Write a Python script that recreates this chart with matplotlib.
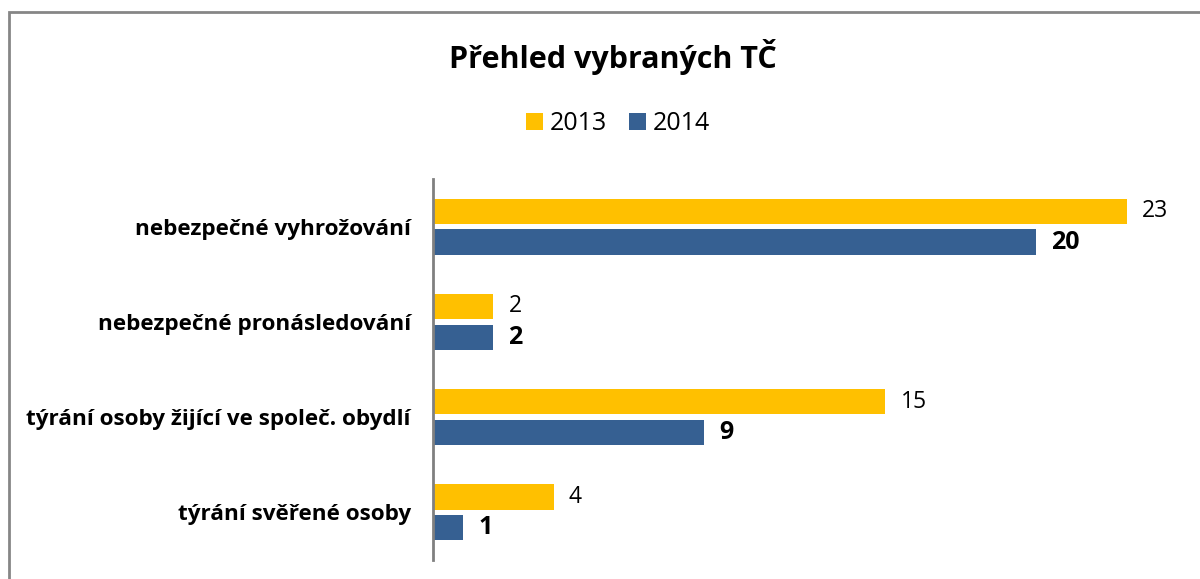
import numpy as np
import matplotlib.pyplot as plt
from matplotlib.patches import Rectangle

categories = ["nebezpečné vyhrožování", "nebezpečné pronásledování",
              "týrání osoby žijící ve společ. obydlí", "týrání svěřené osoby"]
values_2013 = [23, 2, 15, 4]
values_2014 = [20, 2, 9, 1]
series = ["2013", "2014"]

YELLOW = "#FFC000"
BLUE = "#366092"
FONT = ["Open Sans", "DejaVu Sans"]

plt.rcParams["font.family"] = FONT

fig = plt.figure(figsize=(12, 5.79), dpi=100)
ax = fig.add_axes([433 / 1200, 19 / 579, 754 / 1200, 381 / 579])

y = np.arange(len(categories))
h = 0.265
ax.barh(y - h / 2 - 0.03, values_2013, height=h, color=YELLOW, label=series[0])
ax.barh(y + h / 2 + 0.03, values_2014, height=h, color=BLUE, label=series[1])

for i in range(len(categories)):
    ax.text(values_2013[i] + 0.5, y[i] - h / 2 - 0.03, str(values_2013[i]),
            va="center", ha="left", fontsize=16.5)
    ax.text(values_2014[i] + 0.5, y[i] + h / 2 + 0.03, str(values_2014[i]),
            va="center", ha="left", fontsize=18, fontweight="bold")

ax.set_xlim(0, 25)
ax.set_ylim(len(categories) - 0.5, -0.5)
ax.set_yticks(y, labels=categories)
ax.tick_params(axis="y", length=0, pad=16)
for lbl in ax.get_yticklabels():
    lbl.set_fontweight("bold")
    lbl.set_fontsize(16.2)
ax.set_xticks([])
for s in ["top", "right", "bottom"]:
    ax.spines[s].set_visible(False)
ax.spines["left"].set_color("#808080")
ax.spines["left"].set_linewidth(2)

fig.text(613 / 1200, 1 - 57 / 579, "Přehled vybraných TČ", ha="center", va="center",
         fontsize=22, fontweight="bold")

fig.legend(loc="center", bbox_to_anchor=(618 / 1200, 1 - 124 / 579), ncol=2,
           frameon=False, fontsize=18, handlelength=0.68, handleheight=0.68,
           handletextpad=0.28, columnspacing=0.9)

# outer chart frame
fig.patches.append(Rectangle((9 / 1200, -0.05), 1.1, 1 - 12 / 579 + 0.05,
                             transform=fig.transFigure, fill=False,
                             edgecolor="#868686", linewidth=2))

fig.savefig("out.png", dpi=100)
